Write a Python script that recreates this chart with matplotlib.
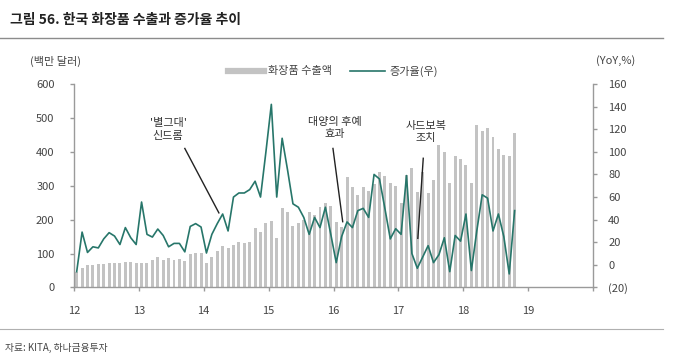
import numpy as np
import matplotlib
matplotlib.use('Agg')
import matplotlib.pyplot as plt
from matplotlib.lines import Line2D

# monthly data, 2012.01 ~ 2018.10
exports = [47, 57, 66, 65, 69, 69, 73, 71, 73, 76, 76, 73,
           73, 73, 81, 89, 81, 86, 81, 84, 79, 99, 103, 101,
           73, 91, 109, 122, 116, 125, 135, 130, 133, 175, 165, 191,
           196, 145, 234, 222, 182, 191, 199, 224, 214, 238, 248, 241,
           194, 179, 327, 295, 273, 295, 285, 305, 342, 329, 307, 300,
           250, 332, 352, 283, 342, 280, 317, 420, 400, 307, 388, 379,
           361, 307, 479, 461, 471, 445, 408, 392, 387, 457]  # 백만 달러
yoy = [-6, 29, 11, 16, 15, 23, 28.5, 25.5, 18, 33, 24, 18,
       55.6, 27, 24.6, 31.7, 26, 16, 19, 19, 11.5, 34, 36.5, 33.5,
       10.5, 27, 36.5, 45, 30, 60, 63.6, 63.6, 66.6, 74, 60, 100,
       142, 60, 112, 84, 54, 51, 42, 27, 42, 33, 51, 27,
       2, 25, 38, 33, 48, 50, 42, 80, 76, 50, 23, 32,
       27, 79, 10, -3, 7, 17, 2, 9, 24, -6, 26, 21,
       45, -5, 30, 62, 59, 30, 45, 25, -8, 48]  # YoY %
year_labels = ['12', '13', '14', '15', '16', '17', '18', '19']
left_ticks = [0, 100, 200, 300, 400, 500, 600]
right_ticks = [-20, 0, 20, 40, 60, 80, 100, 120, 140, 160]

bar_color = '#c3c3c3'
line_color = '#27766a'
text_color = '#444444'
axis_color = '#9a9a9a'


def main():
    plt.rcParams['font.family'] = ['Noto Sans CJK KR', 'DejaVu Sans']

    fig = plt.figure(figsize=(6.8, 3.64), dpi=100)
    ax = fig.add_axes([0.1088, 0.2102, 0.7633, 0.559])
    ax2 = ax.twinx()

    x = np.arange(len(exports)) + 0.5
    ax.bar(x, exports, width=0.55, color=bar_color, zorder=1)
    ax2.plot(x, yoy, color=line_color, lw=1.2, zorder=3)

    # axes limits / ticks
    ax.set_xlim(0, 96)
    ax.set_ylim(0, 600)
    ax2.set_ylim(-20, 160)
    ax.set_xticks(np.arange(0, 97, 12))
    ax.set_xticklabels(year_labels + [''])
    ax.set_yticks(left_ticks)
    ax.set_yticklabels([str(v) for v in left_ticks])
    ax2.set_yticks(right_ticks)
    ax2.set_yticklabels(['(%d)' % -v if v < 0 else str(v) for v in right_ticks])

    for a in (ax, ax2):
        for s in a.spines.values():
            s.set_visible(False)
    ax.spines['left'].set_visible(True)
    ax.spines['bottom'].set_visible(True)
    ax2.spines['right'].set_visible(True)
    for s in (ax.spines['left'], ax.spines['bottom'], ax2.spines['right']):
        s.set_color(axis_color)
        s.set_linewidth(1.0)

    ax.tick_params(axis='y', length=3, width=1, color=axis_color, pad=11,
                   labelsize=8, labelcolor=text_color)
    ax.tick_params(axis='x', length=3, width=1, color=axis_color, pad=10,
                   labelsize=8, labelcolor=text_color)
    ax2.tick_params(axis='y', length=3, width=1, color=axis_color, pad=8,
                    labelsize=8, labelcolor=text_color)

    # annotations
    ann = dict(ha='center', va='center', fontsize=8, color='#333333',
               linespacing=1.3)
    ax.text(17.4, 466, "'별그대'\n신드롬", **ann)
    ax.plot([20.5, 26.8], [410, 220], color='#222222', lw=1.0, zorder=4)
    ax.text(48.2, 470, '대양의 후예\n효과', **ann)
    ax.plot([47.9, 49.7], [410, 194], color='#222222', lw=1.0, zorder=4)
    ax.text(65.1, 459, '사드보복\n조치', **ann)
    ax.plot([64.6, 63.6], [381, 145], color='#222222', lw=1.0, zorder=4)

    # legend
    handles = [Line2D([], [], color=bar_color, lw=4.5),
               Line2D([], [], color=line_color, lw=1.2)]
    fig.legend(handles, ['화장품 수출액', '증가율(우)'], loc='center',
               bbox_to_anchor=(0.49, 0.805), ncol=2, frameon=False,
               fontsize=8, handlelength=3.2, columnspacing=1.6,
               handletextpad=0.4, labelcolor=text_color)

    # axis unit labels
    fig.text(0.081, 0.83, '(백만 달러)', ha='center', va='center',
             fontsize=8, color=text_color)
    fig.text(0.905, 0.835, '(YoY,%)', ha='center', va='center',
             fontsize=8, color=text_color)

    # title, rules, source
    fig.text(0.014, 0.945, '그림 56. 한국 화장품 수출과 증가율 추이',
             ha='left', va='center', fontsize=10, fontweight='bold',
             color='#222222')
    fig.add_artist(Line2D([0.0, 0.975], [0.896, 0.896], color='#8c8c8c',
                          lw=1.0, transform=fig.transFigure))
    fig.add_artist(Line2D([0.0, 0.975], [0.097, 0.097], color='#b0b0b0',
                          lw=0.8, transform=fig.transFigure))
    fig.text(0.008, 0.045, '자료: KITA, 하나금융투자', ha='left', va='center',
             fontsize=7, color=text_color)

    fig.savefig('out.png', dpi=100)


if __name__ == '__main__':
    main()
